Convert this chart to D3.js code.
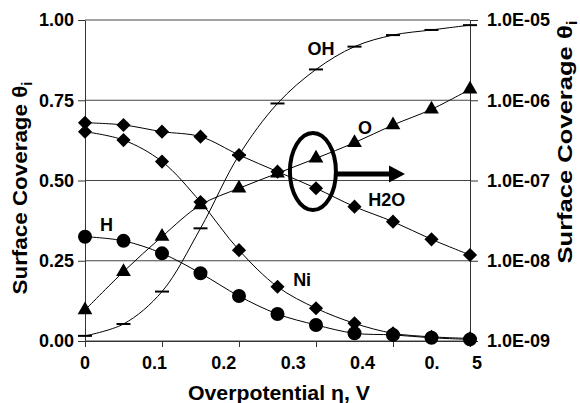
<!DOCTYPE html>
<html>
<head>
<meta charset="utf-8">
<script src="https://cdn.jsdelivr.net/npm/d3@7"></script>
<style>
body { margin: 0; background: #fff; }
svg { display: block; font-family: "Liberation Sans", Arial, sans-serif; }
.axis text, .xlabel, .lbl { font-weight: bold; font-size: 18px; fill: #000; }
.axis path, .axis line { stroke: #333; }
.grid line { stroke: #444; stroke-width: 1; }
.title { font-weight: bold; fill: #000; }
.series { fill: none; stroke: #000; stroke-width: 1; }
</style>
</head>
<body>
<svg id="chart" width="580" height="403"></svg>
<script>
// overpotential, V
const eta = [0, 0.05, 0.1, 0.15, 0.2, 0.25, 0.3, 0.35, 0.4, 0.45, 0.5];
// left (linear) axis series
const thetaOH = [0.016, 0.053, 0.154, 0.351, 0.579, 0.740, 0.846, 0.917, 0.953, 0.969, 0.984];
const thetaH  = [0.325, 0.312, 0.273, 0.211, 0.140, 0.084, 0.050, 0.024, 0.019, 0.010, 0.005];
const thetaNi = [0.652, 0.626, 0.559, 0.433, 0.283, 0.169, 0.102, 0.055, 0.024, 0.013, 0.008];
// right (log) axis series
const thetaO   = [2.43e-9, 7.31e-9, 2.0e-8, 4.95e-8, 8.0e-8, 1.23e-7, 1.89e-7, 2.96e-7, 4.92e-7, 7.71e-7, 1.37e-6];
const thetaH2O = [5.25e-7, 4.92e-7, 4.06e-7, 3.52e-7, 2.08e-7, 1.29e-7, 8.0e-8, 4.72e-8, 3.07e-8, 1.85e-8, 1.18e-8];

const leftTicks = [0, 0.25, 0.5, 0.75, 1];
const rightTicks = [1e-9, 1e-8, 1e-7, 1e-6, 1e-5];
const rightTickLabels = ["1.0E-09", "1.0E-08", "1.0E-07", "1.0E-06", "1.0E-05"];
const xTicks = [0, 0.1, 0.2, 0.3, 0.4, 0.5];
// the x tick labels in the figure are squeezed and the last one is split
const xTickLabels = ["0", "0.1", "0.2", "0.3", "0.4", "0.", "5"];
const xTickLabelAt = [0, 0.1, 0.2, 0.3, 0.4, 0.5, 0.565];

const margin = {top: 20, right: 110, bottom: 62, left: 85};
const width = 580 - margin.left - margin.right;
const height = 403 - margin.top - margin.bottom;

const svg = d3.select('#chart');
const chart = svg.append('g').attr('transform', 'translate(' + margin.left + ',' + margin.top + ')');

const x = d3.scaleLinear().domain([0, 0.5]).range([0, width]);
const xLab = d3.scaleLinear().domain([0, 0.5]).range([0, 347]);
const yL = d3.scaleLinear().domain([0, 1]).range([height, 0]);
const yR = d3.scaleLog().domain([1e-9, 1e-5]).range([height, 0]);

// grid
chart.append('g').attr('class', 'grid')
    .selectAll('line').data(leftTicks).enter().append('line')
    .attr('x1', 0).attr('x2', width)
    .attr('y1', d => yL(d)).attr('y2', d => yL(d));

// axes
chart.append('g').attr('class', 'axis')
    .call(d3.axisLeft(yL).tickValues(leftTicks).tickFormat(d3.format('.2f')).tickSize(7).tickPadding(4).tickSizeOuter(0));
chart.append('g').attr('class', 'axis').attr('transform', 'translate(' + width + ',0)')
    .call(d3.axisRight(yR).tickValues(rightTicks).tickFormat((d, i) => rightTickLabels[i]).tickSize(8).tickPadding(9).tickSizeOuter(0));
chart.append('g').attr('class', 'axis').attr('transform', 'translate(0,' + height + ')')
    .call(d3.axisBottom(x).tickValues(xTicks).tickFormat('').tickSize(6).tickSizeOuter(0));
chart.selectAll('.axis text').attr('font-family', null).attr('font-size', null);

chart.append('g').selectAll('text').data(xTickLabels).enter().append('text')
    .attr('class', 'xlabel')
    .attr('text-anchor', 'middle')
    .attr('x', (d, i) => xLab(xTickLabelAt[i]))
    .attr('y', height + 28)
    .text(d => d);

// series
const series = [
    {name: 'OH',  values: thetaOH,  y: yL, marker: 'dash'},
    {name: 'H',   values: thetaH,   y: yL, marker: 'circle'},
    {name: 'Ni',  values: thetaNi,  y: yL, marker: 'diamond'},
    {name: 'O',   values: thetaO,   y: yR, marker: 'triangle'},
    {name: 'H2O', values: thetaH2O, y: yR, marker: 'diamond'}
];

const markerPath = {
    circle: d3.symbol(d3.symbolCircle, 154)(),
    diamond: d3.symbol(d3.symbolSquare, 100)(),
    triangle: d3.symbol(d3.symbolTriangle, 94)(),
    dash: 'M-7,0H7'
};

series.forEach(function(s) {
    let line = d3.line()
        .x((d, i) => x(eta[i]))
        .y(d => s.y(d))
        .curve(d3.curveCatmullRom.alpha(0.5));
    chart.append('path').attr('class', 'series').attr('d', line(s.values));
});

series.forEach(function(s) {
    chart.append('g').selectAll('path').data(s.values).enter().append('path')
        .attr('d', markerPath[s.marker])
        .attr('transform', (d, i) => 'translate(' + x(eta[i]) + ',' + s.y(d) + ')' + (s.marker === 'diamond' ? ' rotate(45)' : ''))
        .attr('fill', s.marker === 'dash' ? 'none' : '#000')
        .attr('stroke', '#000')
        .attr('stroke-width', s.marker === 'dash' ? 2 : 0);
});

// curve labels (in data units of the left axis)
const labels = [
    {text: 'OH',  at: [0.3065, 0.910]},
    {text: 'O',   at: [0.3636, 0.664]},
    {text: 'H2O', at: [0.392, 0.439]},
    {text: 'H',   at: [0.028, 0.361]},
    {text: 'Ni',  at: [0.282, 0.190]}
];
chart.append('g').selectAll('text').data(labels).enter().append('text')
    .attr('class', 'lbl')
    .attr('text-anchor', 'middle')
    .attr('dy', '0.35em')
    .attr('x', d => x(d.at[0]))
    .attr('y', d => yL(d.at[1]))
    .text(d => d.text);

// ellipse and arrow marking the log-axis curves
const mark = {cx: 0.296, cy: 0.528, rx: 23, ry: 38.5, arrowFrom: 0.326, arrowTo: 0.4156, arrowY: 0.520};
chart.append('ellipse')
    .attr('cx', x(mark.cx)).attr('cy', yL(mark.cy))
    .attr('rx', mark.rx).attr('ry', mark.ry)
    .attr('fill', 'none').attr('stroke', '#000').attr('stroke-width', 4);
const ax0 = x(mark.arrowFrom), ax1 = x(mark.arrowTo), ay = yL(mark.arrowY);
chart.append('line')
    .attr('x1', ax0).attr('x2', ax1 - 12).attr('y1', ay).attr('y2', ay)
    .attr('stroke', '#000').attr('stroke-width', 5);
chart.append('path')
    .attr('d', 'M' + ax1 + ',' + ay + 'L' + (ax1 - 16) + ',' + (ay - 8.5) + 'L' + (ax1 - 16) + ',' + (ay + 8.5) + 'Z')
    .attr('fill', '#000');

// axis titles
svg.append('text').attr('class', 'title')
    .attr('text-anchor', 'middle')
    .attr('x', 279).attr('y', 400)
    .attr('font-size', 20)
    .attr('textLength', 182).attr('lengthAdjust', 'spacingAndGlyphs')
    .text('Overpotential \u03b7, V');

function yTitle(tx, ty, len) {
    let t = svg.append('text').attr('class', 'title')
        .attr('text-anchor', 'middle')
        .attr('font-size', 21)
        .attr('transform', 'translate(' + tx + ',' + ty + ') rotate(-90)')
        .attr('textLength', len).attr('lengthAdjust', 'spacingAndGlyphs');
    t.append('tspan').text('Surface Coverage \u03b8');
    t.append('tspan').attr('font-size', 14).attr('dy', 5).text('i');
}
yTitle(27, 188, 213);
yTitle(572, 142, 243);
</script>
</body>
</html>
